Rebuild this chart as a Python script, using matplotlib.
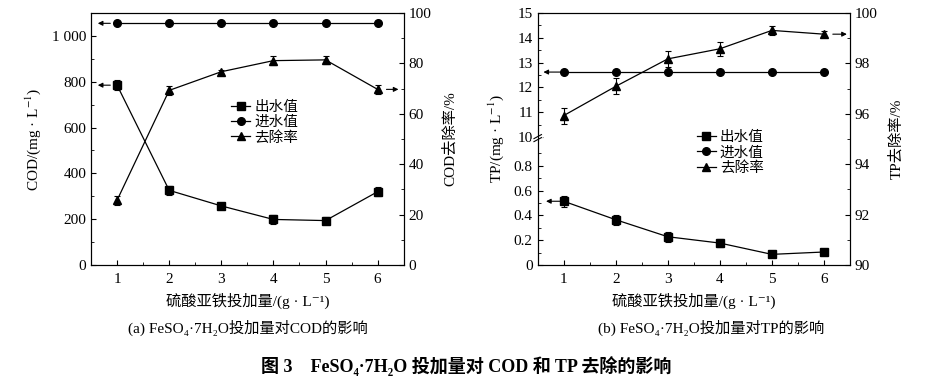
import numpy as np
import matplotlib

matplotlib.use("Agg")
import matplotlib.pyplot as plt  # noqa: E402
from matplotlib.lines import Line2D  # noqa: E402
from matplotlib.ticker import FixedLocator, FuncFormatter, MultipleLocator  # noqa: E402

# Latin in a Times-like serif, CJK and sub/superscripts fall back down the list
plt.rcParams["font.family"] = ["Liberation Serif", "DejaVu Serif", "Noto Sans CJK SC"]
plt.rcParams["mathtext.fontset"] = "stix"
plt.rcParams["font.size"] = 11
plt.rcParams["xtick.direction"] = "in"
plt.rcParams["ytick.direction"] = "in"

# FeSO4·7H2O dose (g/L)
dose = [1, 2, 3, 4, 5, 6]

# (a) COD
cod_in = [1055, 1055, 1055, 1055, 1055, 1055]
cod_out = [785, 326, 258, 199, 194, 320]
cod_out_err = [22, 20, 8, 18, 15, 20]
cod_rate = [25.7, 69.3, 76.7, 81.1, 81.4, 69.7]
cod_rate_err = [1.8, 1.8, 0.8, 1.8, 1.5, 1.8]

# (b) TP
tp_in = [12.62, 12.62, 12.62, 12.62, 12.62, 12.62]
tp_out = [0.514, 0.365, 0.228, 0.177, 0.086, 0.105]
tp_out_err = [0.043, 0.04, 0.04, 0.035, 0.025, 0.012]
tp_rate = [95.93, 97.09, 98.18, 98.58, 99.31, 99.16]
tp_rate_err = [0.32, 0.32, 0.33, 0.28, 0.18, 0.11]

LW = 0.9
MS = 5.5
EB = dict(color="k", lw=LW, elinewidth=0.8, capsize=2.5, capthick=0.8, ms=MS)

# broken TP axis: 0..BRK linear, 10..15 compressed
BRK = 1.03
TOP = BRK + 0.001


def fwd(y):
    y = np.asarray(y, float)
    return np.where(y <= BRK, y,
                    np.where(y >= 10, TOP + (y - 10) * 0.2,
                             BRK + (y - BRK) * 0.001 / (10 - BRK)))


def inv(v):
    v = np.asarray(v, float)
    return np.where(v <= BRK, v,
                    np.where(v >= TOP, 10 + (v - TOP) / 0.2,
                             BRK + (v - BRK) * (10 - BRK) / 0.001))


def arrow(ax, x0, x1, y):
    ax.annotate("", xy=(x1, y), xytext=(x0, y),
                arrowprops=dict(arrowstyle="-|>", color="k", lw=0.8,
                                mutation_scale=7, shrinkA=0, shrinkB=0))


def style_x(ax):
    ax.set_xlim(0.5, 6.5)
    ax.xaxis.set_major_locator(FixedLocator(dose))
    ax.xaxis.set_minor_locator(FixedLocator([1.5, 2.5, 3.5, 4.5, 5.5]))
    ax.tick_params(axis="x", which="major", length=3.5, top=False, pad=6)
    ax.tick_params(axis="x", which="minor", length=2, top=False)
    ax.set_xlabel("硫酸亚铁投加量/(g · L⁻¹)", fontsize=11, labelpad=5)


legend_handles = [
    Line2D([], [], color="k", lw=LW, marker="s", ms=MS),
    Line2D([], [], color="k", lw=LW, marker="o", ms=MS),
    Line2D([], [], color="k", lw=LW, marker="^", ms=MS),
]
legend_labels = ["出水值", "进水值", "去除率"]

fig = plt.figure(figsize=(9.25, 3.77), dpi=100)

# ---------- (a) COD ----------
ax1 = fig.add_axes([0.0984, 0.297, 0.3380, 0.6685])
ax1.errorbar(dose, cod_out, yerr=cod_out_err, marker="s", **EB)
ax1.errorbar(dose, cod_in, marker="o", **EB)
ax1.set_ylim(0, 1100)
ax1.yaxis.set_major_locator(MultipleLocator(200))
ax1.yaxis.set_minor_locator(MultipleLocator(100))
ax1.yaxis.set_major_formatter(FuncFormatter(
    lambda v, p: "1 000" if v == 1000 else "%d" % v))
ax1.tick_params(axis="y", which="major", length=3.5, right=False)
ax1.tick_params(axis="y", which="minor", length=2, right=False)
ax1.set_ylabel("COD/(mg · L$^{-1}$)", labelpad=6)
style_x(ax1)

ax1r = ax1.twinx()
ax1r.errorbar(dose, cod_rate, yerr=cod_rate_err, marker="^", **EB)
ax1r.set_ylim(0, 100)
ax1r.yaxis.set_major_locator(MultipleLocator(20))
ax1r.yaxis.set_minor_locator(MultipleLocator(10))
ax1r.tick_params(axis="y", which="major", length=3.5)
ax1r.tick_params(axis="y", which="minor", length=2)
ax1r.set_ylabel("COD去除率/%", labelpad=8)

arrow(ax1, 0.87, 0.63, cod_in[0])
arrow(ax1, 0.87, 0.63, cod_out[0])
arrow(ax1r, 6.17, 6.40, cod_rate[-1])

ax1.legend(legend_handles, legend_labels, loc="upper left",
           bbox_to_anchor=(0.43, 0.675), frameon=False, fontsize=10.5,
           handlelength=1.3, handletextpad=0.3, labelspacing=0.12,
           borderaxespad=0)

# ---------- (b) TP ----------
ax2 = fig.add_axes([0.5813, 0.297, 0.3376, 0.6685])
ax2.set_yscale("function", functions=(fwd, inv))
ax2.errorbar(dose, tp_out, yerr=tp_out_err, marker="s", **EB)
ax2.errorbar(dose, tp_in, marker="o", **EB)
ax2.set_ylim(0, 15)
ax2.yaxis.set_major_locator(FixedLocator([0, 0.2, 0.4, 0.6, 0.8, 10, 11, 12, 13, 14, 15]))
ax2.yaxis.set_minor_locator(FixedLocator([0.1, 0.3, 0.5, 0.7, 0.9,
                                          10.5, 11.5, 12.5, 13.5, 14.5]))
ax2.yaxis.set_major_formatter(FuncFormatter(
    lambda v, p: "0" if v == 0 else "%g" % v))
ax2.tick_params(axis="y", which="major", length=3.5, right=False)
ax2.tick_params(axis="y", which="minor", length=2, right=False)
ax2.set_ylabel("TP/(mg · L$^{-1}$)", labelpad=6)
style_x(ax2)

# break marks on the left spine
yb = float(fwd(10)) / float(fwd(15))
ax2.plot([-0.012, 0.012], [yb - 0.012, yb + 0.004], transform=ax2.transAxes,
         color="w", lw=3, clip_on=False, zorder=5)
for dy in (-0.006, 0.006):
    ax2.plot([-0.012, 0.012], [yb + dy - 0.012, yb + dy + 0.004],
             transform=ax2.transAxes, color="k", lw=0.8, clip_on=False, zorder=6)

ax2r = ax2.twinx()
ax2r.errorbar(dose, tp_rate, yerr=tp_rate_err, marker="^", **EB)
ax2r.set_ylim(90, 100)
ax2r.yaxis.set_major_locator(MultipleLocator(2))
ax2r.yaxis.set_minor_locator(MultipleLocator(1))
ax2r.tick_params(axis="y", which="major", length=3.5)
ax2r.tick_params(axis="y", which="minor", length=2)
ax2r.set_ylabel("TP去除率/%", labelpad=8)

arrow(ax2, 0.93, 0.61, tp_in[0])
arrow(ax2, 0.93, 0.66, tp_out[0])
arrow(ax2r, 6.17, 6.44, tp_rate[-1])

ax2.legend(legend_handles, legend_labels, loc="upper left",
           bbox_to_anchor=(0.49, 0.555), frameon=False, fontsize=10.5,
           handlelength=1.3, handletextpad=0.3, labelspacing=0.12,
           borderaxespad=0)

# ---------- captions ----------
fig.text(0.268, 0.13, "(a) FeSO₄·7H₂O投加量对COD的影响", ha="center",
         va="center", fontsize=11)
fig.text(0.769, 0.13, "(b) FeSO₄·7H₂O投加量对TP的影响", ha="center",
         va="center", fontsize=11)
fig.text(0.504, 0.029, "图 3    FeSO₄·7H₂O 投加量对 COD 和 TP 去除的影响",
         ha="center", va="center", fontsize=13, fontweight="bold")

fig.savefig("out.png", dpi=100)
